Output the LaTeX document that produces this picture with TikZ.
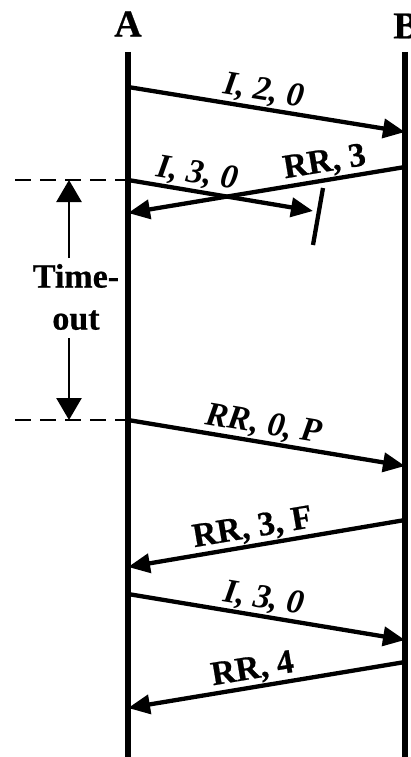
\documentclass[tikz,border=0pt]{standalone}
\usepackage{fontspec}
\setmainfont[BoldFeatures={FakeBold=0.6}]{Liberation Serif}
\usetikzlibrary{arrows.meta}
\begin{document}
\begin{tikzpicture}[x=1pt,y=-1pt,
  life/.style={line width=5.5pt},
  msg/.style={line width=4.3pt},
  msgtip/.style={-{Triangle[length=22pt,width=19pt]}},
  msgtail/.style={{Triangle[length=22pt,width=19pt]}-},
  lbl/.style={font=\fontsize{34}{34}\selectfont\bfseries, sloped, above, inner sep=1pt},
  ilbl/.style={lbl, font=\fontsize{34}{34}\selectfont\bfseries\itshape},
  head/.style={font=\fontsize{38}{38}\selectfont\bfseries},
  guide/.style={line width=2.2pt, dash pattern=on 16pt off 9pt},
  tout/.style={line width=2.6pt, -{Triangle[length=22pt,width=25pt]}},
  tlbl/.style={font=\fontsize{34}{42}\selectfont\bfseries, align=center, inner sep=0pt}
]
\useasboundingbox (0,0) rectangle (411,757);
% lifelines
\coordinate (At) at (128,52); \coordinate (Ab) at (128,757);
\coordinate (Bt) at (405,52); \coordinate (Bb) at (405,757);
\node[head] (A) at (128,24) {A};
\node[head] (B) at (406,26) {B};
\draw[life] (At) -- (Ab);
\draw[life] (Bt) -- (Bb);
% message endpoints
\coordinate (a1) at (128,87);  \coordinate (b1) at (405,132);
\coordinate (a2) at (128,213); \coordinate (b2) at (405,167);
\coordinate (a3) at (128,180); \coordinate (x3) at (313,211);
\coordinate (s1) at (323,188); \coordinate (s2) at (313,245);
\coordinate (a4) at (128,420); \coordinate (b4) at (405,466);
\coordinate (a5) at (128,567); \coordinate (b5) at (405,520);
\coordinate (a6) at (128,594); \coordinate (b6) at (405,640);
\coordinate (a7) at (128,708); \coordinate (b7) at (405,662);
% messages
\draw[msg,msgtip] (a1) -- (b1) node[ilbl,pos=0.48] (l1) {I, 2, 0};
\draw[msg,msgtail] (a2) -- (b2) node[lbl,pos=0.72] (l2) {RR, 3};
\draw[msg,msgtip] (a3) -- (x3) node[ilbl,pos=0.36] (l3) {I, 3, 0};
\draw[msg] (s1) -- (s2);
\draw[msg,msgtip] (a4) -- (b4) node[ilbl,pos=0.48] (l4) {RR, 0, P};
\draw[msg,msgtail] (a5) -- (b5) node[lbl,pos=0.46] (l5) {RR, 3, F};
\draw[msg,msgtip] (a6) -- (b6) node[ilbl,pos=0.48] (l6) {I, 3, 0};
\draw[msg,msgtail] (a7) -- (b7) node[lbl,pos=0.46] (l7) {RR, 4};
% timeout
\coordinate (d1) at (15,180); \coordinate (d2) at (15,420);
\draw[guide] (d1) -- (a3);
\draw[guide] (d2) -- (a4);
\node[tlbl] (T) at (76,297) {Time-\\out};
\coordinate (u1) at (69,180); \coordinate (u2) at (69,420);
\draw[tout] (69,258) -- (u1);
\draw[tout] (69,338) -- (u2);
\end{tikzpicture}
\end{document}
